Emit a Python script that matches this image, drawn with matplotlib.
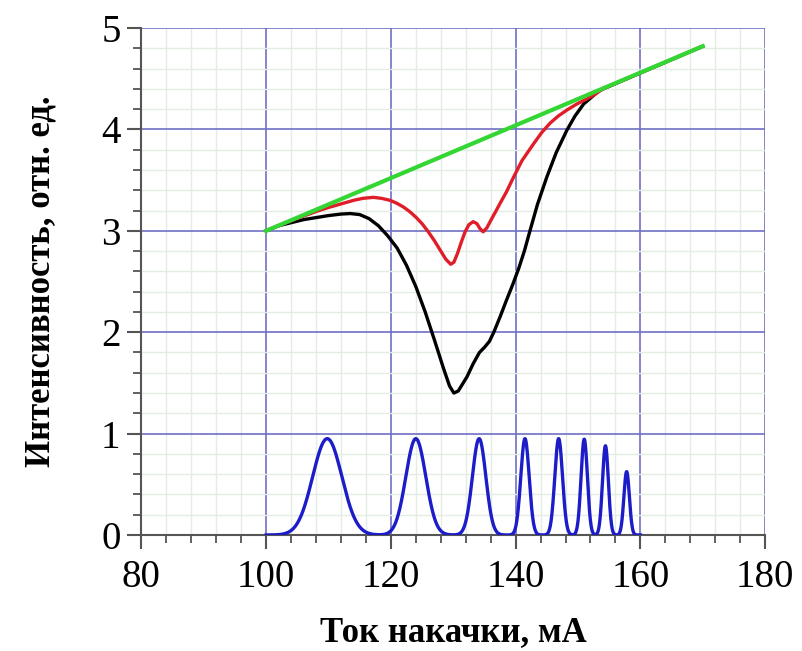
import numpy as np
import matplotlib
matplotlib.use("Agg")
import matplotlib.pyplot as plt
from matplotlib.ticker import MultipleLocator

plt.rcParams['font.family'] = ['Liberation Serif', 'DejaVu Serif']

# pump current, mA and relative intensity of the two dip curves
black_x = [100, 102, 104, 106, 108, 110, 112, 113.5, 115, 116.5, 118, 119.5,
           121, 122.5, 124, 125.5, 127, 128.4, 129.4, 130.1, 130.8, 131.5,
           132.2, 133.2, 134.2, 135, 135.8, 136.5, 137.5, 138.5, 139.6, 140.5,
           141.4, 142.3, 143.5, 145, 146.5, 148.2, 149.5, 150.9, 152.4, 153.5, 170]
black_y = [3.00, 3.05, 3.08, 3.11, 3.13, 3.15, 3.165, 3.17, 3.16, 3.12, 3.05, 2.95,
           2.83, 2.66, 2.45, 2.20, 1.92, 1.65, 1.47, 1.40, 1.42, 1.49,
           1.56, 1.69, 1.80, 1.85, 1.91, 2.00, 2.15, 2.31, 2.48, 2.63,
           2.80, 3.00, 3.26, 3.53, 3.77, 3.99, 4.13, 4.25, 4.33, 4.385, 4.82]

red_x = [100, 102, 104, 106, 108, 110, 112, 114, 115.5, 117.2, 118.5, 119.9,
         121, 122, 123, 124, 125, 126, 127, 128, 128.8, 129.6,
         130.1, 130.7, 131.3, 131.9, 132.5, 133.2, 133.8, 134.3, 134.8, 135.4,
         136, 136.8, 137.5, 138.5, 139.6, 141, 142.9, 144.2, 145.5, 146.8,
         148.2, 149.8, 151.4, 152.8, 154, 170]
red_y = [3.00, 3.05, 3.10, 3.145, 3.19, 3.23, 3.265, 3.30, 3.32, 3.33, 3.32, 3.30,
         3.27, 3.235, 3.19, 3.135, 3.07, 2.99, 2.90, 2.80, 2.72, 2.67,
         2.69, 2.78, 2.89, 2.99, 3.06, 3.09, 3.07, 3.02, 2.99, 3.03,
         3.10, 3.19, 3.27, 3.38, 3.52, 3.69, 3.86, 3.97, 4.06, 4.13,
         4.19, 4.25, 4.30, 4.35, 4.40, 4.82]

# straight reference line
green_x = [100, 170]
green_y = [3.00, 4.82]

# lasing peaks: position, height, width (sigma)
peak_pos = [109.8, 124.0, 134.15, 141.5, 146.9, 151.0, 154.4, 157.8]
peak_amp = [0.95, 0.95, 0.95, 0.95, 0.95, 0.945, 0.88, 0.625]
peak_sig = [2.34, 1.6, 1.08, 0.67, 0.62, 0.51, 0.47, 0.44]

xs = np.linspace(100, 160, 2000)
blue = np.zeros_like(xs)
for c, a, s in zip(peak_pos, peak_amp, peak_sig):
    blue += a * np.exp(-0.5 * ((xs - c) / s) ** 2)

fig = plt.figure(figsize=(8.02, 6.51), dpi=100)
ax = fig.add_axes([0.1763, 0.1782, 0.7777, 0.7788])

ax.plot(xs, blue, color='#1c1cc8', lw=2.4, zorder=3)
ax.plot(black_x, black_y, color='black', lw=2.4, zorder=3)
ax.plot(red_x, red_y, color='#e01e2a', lw=2.4, zorder=4)
ax.plot(green_x, green_y, color='#33d633', lw=3, zorder=5)

ax.set_xlim(80, 180)
ax.set_ylim(0, 5)
ax.xaxis.set_major_locator(MultipleLocator(20))
ax.xaxis.set_minor_locator(MultipleLocator(4))
ax.yaxis.set_major_locator(MultipleLocator(1))
ax.yaxis.set_minor_locator(MultipleLocator(0.2))

ax.grid(which='minor', color='#e4ede4', lw=1.0, zorder=0)
ax.grid(which='major', color='#6f6fc4', lw=1.2, zorder=1)
ax.set_axisbelow(True)

for side in ('top', 'right'):
    ax.spines[side].set_visible(False)
for side in ('left', 'bottom'):
    ax.spines[side].set_color('#555555')
    ax.spines[side].set_linewidth(1.5)

ax.tick_params(which='major', direction='out', length=10, width=1.5,
               color='#555555', labelsize=28, pad=5)
ax.tick_params(which='minor', direction='out', length=6, width=1.3,
               color='#555555')
ax.tick_params(axis='x', which='major', pad=7)

ax.set_xlabel('Ток накачки, мА', fontsize=25, fontweight='bold')
ax.set_ylabel('Интенсивность, отн. ед.', fontsize=25, fontweight='bold')
ax.xaxis.set_label_coords(0.5, -0.16)
ax.yaxis.set_label_coords(-0.135, 0.5)

fig.savefig('out.png', dpi=100)
